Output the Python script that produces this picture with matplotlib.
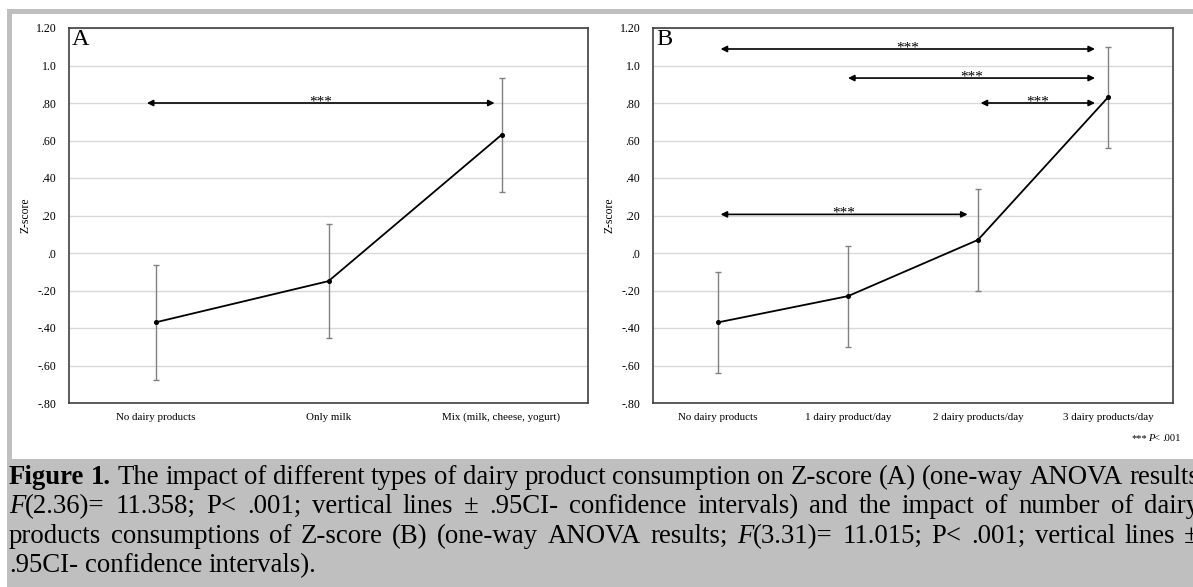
import matplotlib
matplotlib.use("Agg")
import matplotlib.pyplot as plt
from matplotlib.patches import Rectangle

# ---- data ----
cats_a = ["No dairy products", "Only milk", "Mix (milk, cheese, yogurt)"]
mean_a = [-0.37, -0.15, 0.63]
ci_a = [0.305, 0.305, 0.305]

cats_b = ["No dairy products", "1 dairy product/day", "2 dairy products/day", "3 dairy products/day"]
mean_b = [-0.37, -0.23, 0.07, 0.83]
ci_b = [0.27, 0.27, 0.27, 0.27]

yticks = [-0.8, -0.6, -0.4, -0.2, 0.0, 0.2, 0.4, 0.6, 0.8, 1.0, 1.2]
ytick_labels = ["-.80", "-.60", "-.40", "-.20", ".0", ".20", ".40", ".60", ".80", "1.0", "1.20"]

# significance brackets: (x start, x end, y)
sig_a = [(-0.05, 1.96, 0.80)]
sig_b = [(0.02, 2.9, 1.088), (1.0, 2.9, 0.933), (2.02, 2.9, 0.80), (0.02, 1.92, 0.206)]

caption = [
    [[("Figure", "bold", "normal")], [("1.", "bold", "normal")]]
    + [[(w, "normal", "normal")] for w in "The impact of different types of dairy product consumption on Z-score (A) (one-way ANOVA results".split()],
    [[("F", "normal", "italic"), ("(2.36)=", "normal", "normal")]]
    + [[(w, "normal", "normal")] for w in "11.358; P< .001; vertical lines ± .95CI- confidence intervals) and the impact of number of dairy".split()],
    [[(w, "normal", "normal")] for w in "products consumptions of Z-score (B) (one-way ANOVA results;".split()]
    + [[("F", "normal", "italic"), ("(3.31)=", "normal", "normal")]]
    + [[(w, "normal", "normal")] for w in "11.015; P< .001; vertical lines ±".split()],
    [[(w, "normal", "normal")] for w in ".95CI- confidence intervals).".split()],
]

W, H = 1193, 587
SERIF = "Liberation Serif"
GRAY = "#bfbfbf"

fig = plt.figure(figsize=(W / 100, H / 100), dpi=100)
fig.patch.set_facecolor("white")

# grey frame and caption box
for x0, y0, x1, y1 in [(7, 9, W, 14), (7, 9, 12, 459), (7, 459, W, H)]:
    fig.patches.append(Rectangle((x0 / W, 1 - y1 / H), (x1 - x0) / W, (y1 - y0) / H,
                                 transform=fig.transFigure, color=GRAY, lw=0, zorder=0))


def panel(ax, cats, means, cis, sigs, letter):
    x = list(range(len(cats)))
    ax.errorbar(x, means, yerr=cis, fmt="none", ecolor="#808080", elinewidth=1.0,
                capsize=2, capthick=1.0, zorder=3)
    ax.plot(x, means, color="black", lw=1.3, marker="o", ms=2.6, zorder=4)
    ax.set_xlim(-0.5, len(cats) - 0.5)
    ax.set_ylim(-0.8, 1.2)
    ax.set_yticks(yticks)
    ax.set_yticklabels(ytick_labels, family=SERIF, fontsize=8.6)
    ax.set_xticks(x)
    ax.set_xticklabels(cats, family=SERIF, fontsize=7.9)
    ax.tick_params(axis="y", length=0, pad=9)
    ax.tick_params(axis="x", length=0, pad=7)
    ax.grid(axis="y", color="#d9d9d9", lw=1)
    ax.set_axisbelow(True)
    for s in ax.spines.values():
        s.set_color("#404040")
        s.set_linewidth(1.2)
    ax.set_ylabel("Z-score", family=SERIF, fontsize=8.4)
    ax.yaxis.set_label_coords(-0.072, 0.5)
    ax.text(0.006, 0.997, letter, transform=ax.transAxes, family=SERIF, fontsize=17.5,
            va="top", ha="left")
    for x0, x1, y in sigs:
        ax.annotate("", xy=(x1, y), xytext=(x0, y),
                    arrowprops=dict(arrowstyle="<|-|>", color="black", lw=1.2,
                                    mutation_scale=9, shrinkA=0, shrinkB=0))
        ax.annotate("***", xy=((x0 + x1) / 2, y), xytext=(0, -1.5), textcoords="offset points",
                    family=SERIF, fontsize=11, ha="center", va="baseline")


ax_a = fig.add_axes([69 / W, 184 / H, 519 / W, 375 / H])
panel(ax_a, cats_a, mean_a, ci_a, sig_a, "A")
ax_b = fig.add_axes([653 / W, 184 / H, 520 / W, 375 / H])
panel(ax_b, cats_b, mean_b, ci_b, sig_b, "B")

renderer = fig.canvas.get_renderer()


def place_words(words, x_left, y_base, fs, right=None, align="left"):
    items = []
    for word in words:
        segs = []
        for txt, wt, st in word:
            t = fig.text(0, 0, txt, family=SERIF, fontsize=fs, fontweight=wt,
                         fontstyle=st, va="baseline", ha="left")
            segs.append((t, t.get_window_extent(renderer).width))
        items.append(segs)
    widths = [sum(w for _, w in segs) for segs in items]
    space = 0.25 * fs * 100 / 72
    if right is not None and align == "justify" and len(items) > 1:
        space = (right - x_left - sum(widths)) / (len(items) - 1)
    total = sum(widths) + space * (len(items) - 1)
    x = x_left if align != "right" else right - total
    for segs, ww in zip(items, widths):
        xx = x
        for t, w in segs:
            t.set_position((xx / W, 1 - y_base / H))
            xx += w
        x += ww + space


fs_cap = 19.3
baselines = [484, 513, 543, 572]
for i, (line, yb) in enumerate(zip(caption, baselines)):
    place_words(line, 9, yb, fs_cap, right=1199 if i < 3 else None,
                align="justify" if i < 3 else "left")

place_words([[("***", "normal", "normal"), ("P", "normal", "italic"), ("<", "normal", "normal")],
             [(".001", "normal", "normal")]], 0, 441, 7.6, right=1181, align="right")

fig.savefig("out.png", dpi=100, facecolor="white")
